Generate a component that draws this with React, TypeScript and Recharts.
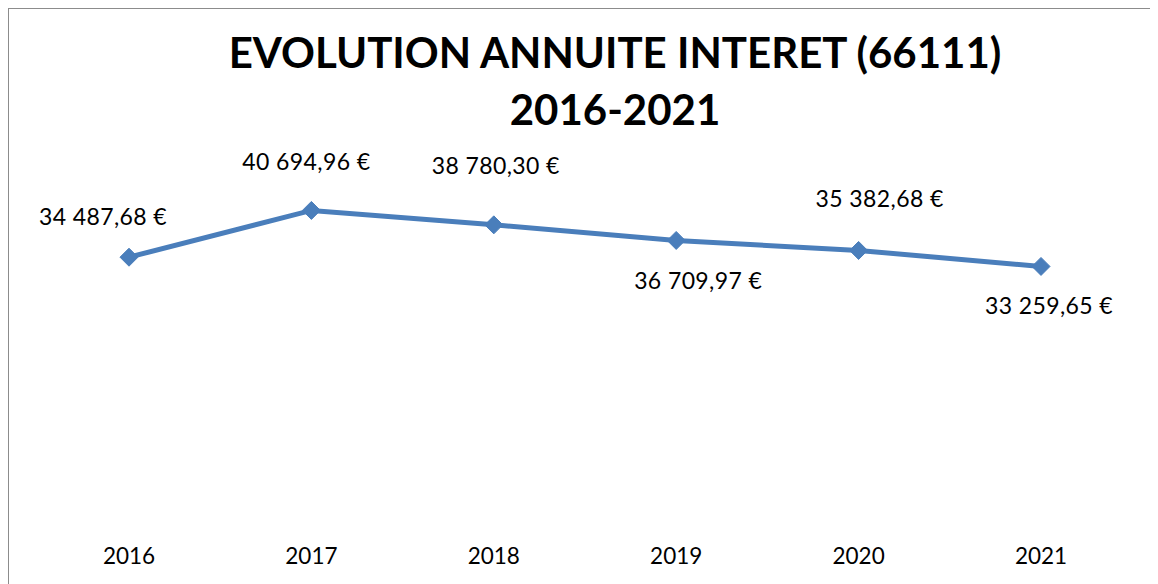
import React from "react";
import { LineChart, Line, XAxis, YAxis, LabelList } from "recharts";

const years = ["2016", "2017", "2018", "2019", "2020", "2021"];
const interest = [34487.68, 40694.96, 38780.3, 36709.97, 35382.68, 33259.65];
const titleLines = ["EVOLUTION ANNUITE INTERET (66111)", "2016-2021"];

// label placement offsets (styling, px) relative to each marker
const labelOffsets = [
  [-26, -41],
  [-5, -49],
  [2, -60],
  [22, 40],
  [21, -52],
  [8, 39],
];

const data = years.map((y, i) => ({ year: y, value: interest[i] }));

const BLUE = "#4a7ebb";
const FONT = "Lato, 'Open Sans', sans-serif";

function fmtEuro(v: number): string {
  const [int, dec] = v.toFixed(2).split(".");
  const grouped = int.replace(/\B(?=(\d{3})+(?!\d))/g, " ");
  return `${grouped},${dec} €`;
}

const Diamond = (props: any) => {
  const { cx, cy } = props;
  if (cx == null || cy == null) return null;
  const r = 9;
  return (
    <polygon
      points={`${cx},${cy - r} ${cx + r},${cy} ${cx},${cy + r} ${cx - r},${cy}`}
      fill={BLUE}
      stroke={BLUE}
      strokeWidth={1}
    />
  );
};

const ValueLabel = (props: any) => {
  const { x, y, value, index } = props;
  const [dx, dy] = labelOffsets[index] || [0, -20];
  return (
    <text
      x={x + dx}
      y={y + dy}
      textAnchor="middle"
      dominantBaseline="central"
      fontFamily={FONT}
      fontSize={23}
      letterSpacing={0.4}
      fill="#000"
    >
      {fmtEuro(value)}
    </text>
  );
};

const YearTick = (props: any) => {
  const { x, y, payload } = props;
  return (
    <text
      x={x}
      y={y + 47}
      textAnchor="middle"
      fontFamily={FONT}
      fontSize={22.5}
      fill="#000"
    >
      {payload.value}
    </text>
  );
};

export default function App() {
  return (
    <div
      style={{
        position: "relative",
        width: 1160,
        height: 590,
        borderLeft: "2px solid #8c8c8c",
        borderTop: "2px solid #8c8c8c",
        boxSizing: "border-box",
        marginLeft: -1,
        marginTop: -1,
        background: "#fff",
      }}
    >
      <style>{"html,body{overflow:hidden;}"}</style>
      <svg
        width={1140}
        height={140}
        style={{ position: "absolute", left: 0, top: 0 }}
      >
        <text
          x={606}
          y={59}
          textAnchor="middle"
          fontFamily={FONT}
          fontWeight={700}
          fontSize={42}
          fill="#000"
        >
          {titleLines[0]}
        </text>
        <text
          x={606}
          y={116}
          textAnchor="middle"
          fontFamily={FONT}
          fontWeight={700}
          fontSize={42}
          fill="#000"
        >
          {titleLines[1]}
        </text>
      </svg>
      <div style={{ position: "absolute", left: 0, top: 0 }}>
        <LineChart
          width={1140}
          height={566}
          data={data}
          margin={{ top: 169, right: 108, bottom: 0, left: 120 }}
        >
          <XAxis
            dataKey="year"
            axisLine={false}
            tickLine={false}
            tickSize={0}
            tickMargin={0}
            height={58}
            interval={0}
            tick={<YearTick />}
          />
          <YAxis hide domain={[0, 45000]} />
          <Line
            type="linear"
            dataKey="value"
            stroke={BLUE}
            strokeWidth={5}
            dot={<Diamond />}
            activeDot={false}
            isAnimationActive={false}
          >
            <LabelList dataKey="value" content={<ValueLabel />} />
          </Line>
        </LineChart>
      </div>
    </div>
  );
}
